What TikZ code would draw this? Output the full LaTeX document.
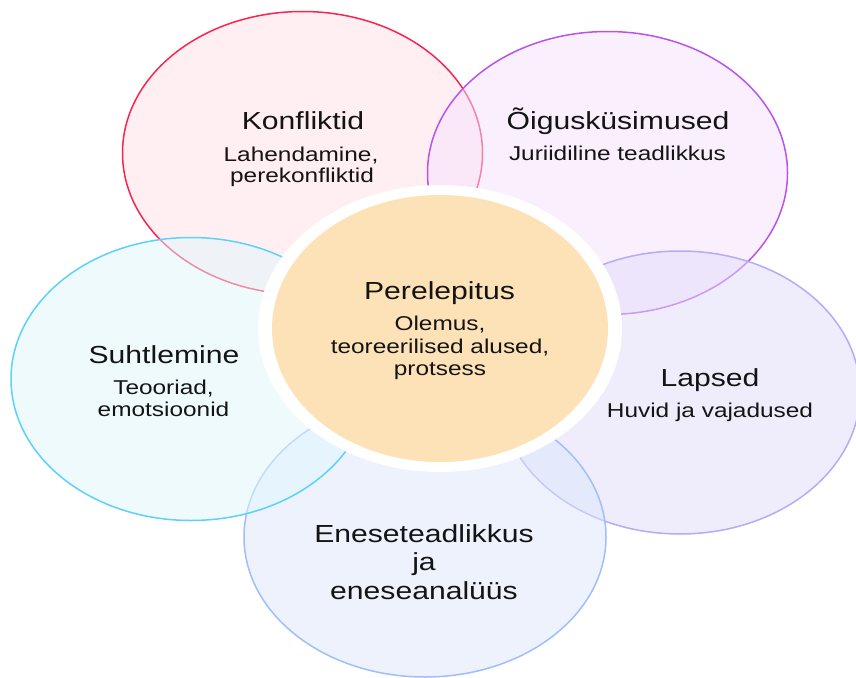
\documentclass[tikz,border=0pt]{standalone}
\usepackage{fontspec}
\setmainfont[FakeStretch=1.22]{Liberation Sans}
\usetikzlibrary{shapes.geometric}
\definecolor{sK}{RGB}{246,38,80}
\definecolor{fK}{RGB}{255,225,231}
\definecolor{sO}{RGB}{184,84,238}
\definecolor{fO}{RGB}{247,225,252}
\definecolor{sL}{RGB}{182,172,246}
\definecolor{fL}{RGB}{225,221,251}
\definecolor{sE}{RGB}{162,190,250}
\definecolor{fE}{RGB}{221,231,253}
\definecolor{sS}{RGB}{92,210,250}
\definecolor{fS}{RGB}{225,247,253}
\definecolor{peach}{RGB}{253,226,184}
\definecolor{ink}{RGB}{20,20,20}
\begin{document}
\begin{tikzpicture}[x=1pt,y=-1pt,
  blob/.style={ellipse, inner sep=0pt, outer sep=0pt, line width=1.5pt, fill opacity=0.5,
     minimum width=360pt, minimum height=283pt},
  ttl/.style={anchor=base, inner sep=0pt, text=ink, font=\fontsize{24.7}{30}\selectfont},
  sub/.style={anchor=base, inner sep=0pt, text=ink, font=\fontsize{20}{24}\selectfont}]
\useasboundingbox (0,0) rectangle (856,677);
\fill[white] (0,0) rectangle (856,677);
% outer ellipses, in drawing order
\node[blob, draw=sK, fill=fK] (K) at (302.5,153) {};
\node[blob, draw=sO, fill=fO] (O) at (607.5,173) {};
\node[blob, draw=sL, fill=fL] (L) at (680,392.5) {};
\node[blob, draw=sE, fill=fE, minimum width=362pt, minimum height=280pt] (E) at (425,537) {};
\node[blob, draw=sS, fill=fS] (S) at (191,379) {};
% centre
\node[ellipse, inner sep=0pt, fill=white, minimum width=364pt, minimum height=287pt] (Cw) at (440,328.5) {};
\node[ellipse, inner sep=0pt, fill=peach, minimum width=336pt, minimum height=267pt] (C) at (440,328.5) {};
% texts
\node[ttl] (K1) at (303,129.3) {Konfliktid};
\node[sub] (K2) at (301,161) {Lahendamine,};
\node[sub] (K3) at (302,182.7) {perekonfliktid};

\node[ttl] (O1) at (618,129.3) {Õigusküsimused};
\node[sub] (O2) at (617.5,160.7) {Juriidiline teadlikkus};

\node[ttl] (L1) at (710,386.7) {Lapsed};
\node[sub] (L2) at (710,417) {Huvid ja vajadused};

\node[ttl] (E1) at (424,542.7) {Eneseteadlikkus};
\node[ttl] (E2) at (424,570.7) {ja};
\node[ttl] (E3) at (424,599) {eneseanalüüs};

\node[ttl] (S1) at (164,363.3) {Suhtlemine};
\node[sub] (S2) at (163.5,394) {Teooriad,};
\node[sub] (S3) at (163.5,416.7) {emotsioonid};

\node[ttl] (C1) at (439.5,299.3) {Perelepitus};
\node[sub] (C2) at (440,330.7) {Olemus,};
\node[sub] (C3) at (440,353.3) {teoreerilised alused,};
\node[sub] (C4) at (440,375) {protsess};
\end{tikzpicture}
\end{document}
